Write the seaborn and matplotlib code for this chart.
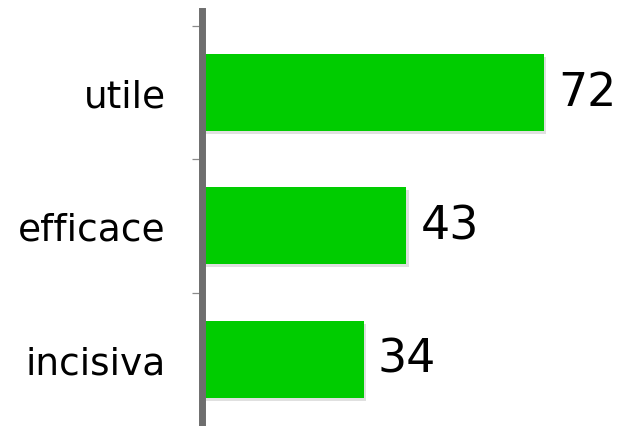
import matplotlib
matplotlib.use("Agg")
import matplotlib.pyplot as plt
import matplotlib.patheffects as pe
import seaborn as sns
import pandas as pd

# dati
categorie = ["utile", "efficace", "incisiva"]
valori = [72, 43, 34]

df = pd.DataFrame({"categoria": categorie, "valore": valori})

sns.set_style("white")
plt.rcParams["font.family"] = ["DejaVu Sans"]

fig = plt.figure(figsize=(6.21, 4.27), dpi=100)
ax = fig.add_axes([202 / 621, 0, 416 / 621, 1 - 12 / 427])

sns.barplot(data=df, x="valore", y="categoria", orient="h", color="#00CC00",
            saturation=1, width=0.577, linewidth=0, ax=ax)

for bar in ax.patches:
    bar.set_path_effects([pe.SimplePatchShadow(offset=(1.5, -2), shadow_rgbFace="#000000", alpha=0.12),
                          pe.Normal()])

ax.bar_label(ax.containers[0], fmt="%d", padding=10, fontsize=33, color="#000000")

ax.set_xlim(0, 87.5)
ax.set_ylim(2.5, -0.61)
ax.set_xlabel("")
ax.set_ylabel("")
ax.set_xticks([])

for s in ["top", "right", "bottom"]:
    ax.spines[s].set_visible(False)
ax.spines["left"].set_color("#6e6e6e")
ax.spines["left"].set_linewidth(5)
ax.spines["left"].set_zorder(5)

ax.set_yticks([-0.5, 0.5, 1.5], minor=True)
ax.tick_params(axis="y", which="major", length=0, pad=26, labelsize=27, labelcolor="#000000")
ax.tick_params(axis="y", which="minor", length=7, width=0.9, color="#8a8a8a", left=True)

fig.savefig("out.png", dpi=100)
